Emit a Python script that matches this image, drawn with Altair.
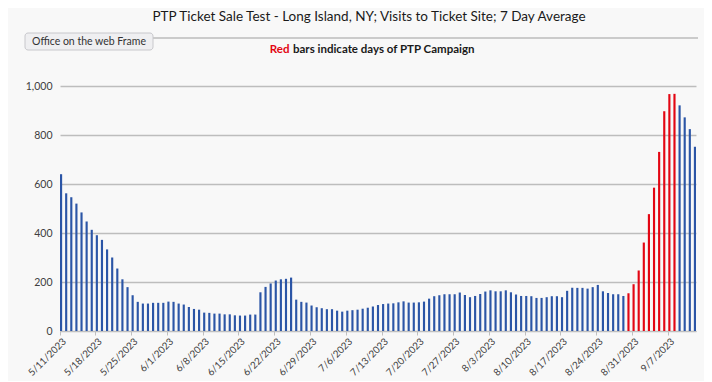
import altair as alt
import pandas as pd
from datetime import date, timedelta

# ---- data ----
start_date = date(2023, 5, 11)
visits = [
    640, 562, 546, 520, 484, 447, 413, 391, 372, 333,
    300, 255, 211, 179, 146, 119, 112, 112, 115, 115,
    115, 120, 119, 112, 108, 98, 90, 87, 75, 74,
    71, 71, 68, 68, 64, 63, 63, 67, 67, 158,
    180, 194, 206, 211, 213, 218, 128, 119, 116, 104,
    97, 93, 89, 89, 83, 79, 83, 85, 87, 91,
    95, 100, 106, 110, 112, 113, 117, 121, 116, 116,
    117, 120, 132, 142, 146, 150, 150, 150, 157, 147,
    138, 143, 151, 161, 166, 162, 162, 166, 158, 149,
    143, 143, 142, 135, 135, 138, 142, 142, 138, 164,
    177, 176, 176, 173, 179, 188, 162, 155, 150, 150,
    143, 154, 191, 247, 361, 477, 585, 731, 897, 967,
    968, 921, 872, 824, 752,
]
campaign_days = ["8/30/2023", "8/31/2023", "9/1/2023", "9/2/2023", "9/3/2023",
                 "9/4/2023", "9/5/2023", "9/6/2023", "9/7/2023", "9/8/2023"]
y_ticks = [0, 200, 400, 600, 800, 1000]

title_text = "PTP Ticket Sale Test - Long Island, NY; Visits to Ticket Site; 7 Day Average"
subtitle_red = "Red"
subtitle_rest = "bars indicate days of PTP Campaign"
frame_text = "Office on the web Frame"


def fmt(d):
    return f"{d.month}/{d.day}/{d.year}"


dates = [fmt(start_date + timedelta(days=i)) for i in range(len(visits))]
tick_dates = dates[::7]

df = pd.DataFrame({
    "date": dates,
    "visits": visits,
    "campaign": ["PTP" if d in campaign_days else "Other" for d in dates],
})

FONT = "Lato"
W, H = 636, 245

bars = alt.Chart(df).mark_bar().encode(
    x=alt.X("date:O", sort=None,
            scale=alt.Scale(paddingInner=0.58, paddingOuter=0.0),
            axis=alt.Axis(values=tick_dates, title=None, labelAngle=-45,
                          bandPosition=0, labelFontSize=9.8, labelColor="#404040",
                          labelFont=FONT, domainColor="#bfbfbf", domainWidth=1.2,
                          tickColor="#bfbfbf", tickSize=4, grid=False,
                          labelPadding=1)),
    y=alt.Y("visits:Q",
            scale=alt.Scale(domain=[0, 1000], nice=False),
            axis=alt.Axis(values=y_ticks, format=",d", title=None, domain=False,
                          ticks=False, labelFontSize=10.5, labelColor="#404040",
                          labelFont=FONT, gridColor="#bdbdbd", gridWidth=1.4,
                          labelPadding=8)),
    color=alt.Color("campaign:N",
                    scale=alt.Scale(domain=["Other", "PTP"], range=["#2b55a6", "#e30613"]),
                    legend=None),
)

one = pd.DataFrame({"k": [0]})

title = alt.Chart(pd.DataFrame({"t": [title_text]})).mark_text(
    font=FONT, fontSize=13.5, color="#1a1a1a", align="center", baseline="middle"
).encode(text="t:N", x=alt.value(309), y=alt.value(-69))

line = alt.Chart(one).mark_rule(color="#bdbdbd", strokeWidth=1.5).encode(
    x=alt.value(-35), x2=alt.value(638), y=alt.value(-48))

frame_box = alt.Chart(one).mark_rect(
    fill="#efeff1", stroke="#c8c8cc", strokeWidth=1, cornerRadius=3
).encode(x=alt.value(-35), x2=alt.value(93), y=alt.value(-53), y2=alt.value(-36))

frame_label = alt.Chart(pd.DataFrame({"t": [frame_text]})).mark_text(
    font=FONT, fontSize=10.5, color="#333333", align="center", baseline="middle"
).encode(text="t:N", x=alt.value(29), y=alt.value(-44.5))

sub_red = alt.Chart(pd.DataFrame({"t": [subtitle_red]})).mark_text(
    font=FONT, fontSize=11.5, fontWeight="bold", color="#e30613",
    align="right", baseline="middle"
).encode(text="t:N", x=alt.value(229.5), y=alt.value(-36))

sub_rest = alt.Chart(pd.DataFrame({"t": [subtitle_rest]})).mark_text(
    font=FONT, fontSize=11.5, fontWeight="bold", color="#1a1a1a",
    align="left", baseline="middle"
).encode(text="t:N", x=alt.value(233), y=alt.value(-36))

chart = alt.layer(bars, line, frame_box, frame_label, title, sub_red, sub_rest).properties(
    width=W, height=H,
    autosize=alt.AutoSizeParams(type="none"),
    padding={"left": 52, "top": 78, "right": 8, "bottom": 50},
    background="#f8f8f8",
).configure_view(stroke=None)

chart.save("out.html", embed_options={"renderer": "svg", "actions": False})
